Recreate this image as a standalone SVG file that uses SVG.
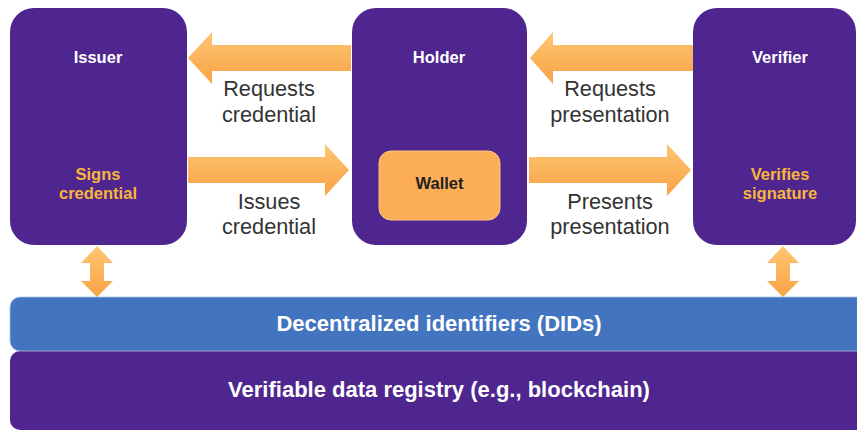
<svg xmlns="http://www.w3.org/2000/svg" width="857" height="430" viewBox="0 0 857 430">
<defs>
<linearGradient id="og" x1="0" y1="0" x2="0" y2="1">
<stop offset="0" stop-color="#FEC673"/>
<stop offset="1" stop-color="#F9A245"/>
</linearGradient>
<style>
.box{fill:#4F268F}
.title{font-family:"Liberation Sans",Arial,sans-serif;font-weight:bold;font-size:16.5px;fill:#FFFFFF;text-anchor:middle}
.sub{font-family:"Liberation Sans",Arial,sans-serif;font-weight:bold;font-size:16.5px;fill:#F7B63A;text-anchor:middle}
.lbl{font-family:"Liberation Sans",Arial,sans-serif;font-size:21.7px;fill:#333333;text-anchor:middle}
.bar{font-family:"Liberation Sans",Arial,sans-serif;font-weight:bold;font-size:22px;fill:#FFFFFF;text-anchor:middle}
.arr{fill:url(#og)}
</style>
</defs>
<rect width="857" height="430" fill="#FFFFFF"/>

<g id="registry">
<rect x="10" y="351" width="870" height="79" rx="10" class="box"/>
<text x="439" y="397" class="bar">Verifiable data registry (e.g., blockchain)</text>
</g>
<g id="dids">
<rect x="10" y="297" width="870" height="54" rx="10" fill="#4274BF" stroke="#A9C1E6" stroke-width="0.8"/>
<text x="439" y="331" class="bar">Decentralized identifiers (DIDs)</text>
</g>

<g id="issuer">
<rect x="10" y="8" width="177" height="237" rx="24" class="box"/>
<text x="98" y="63" class="title">Issuer</text>
<text x="98" y="180" class="sub">Signs</text>
<text x="98" y="199" class="sub">credential</text>
</g>

<g id="holder">
<rect x="352" y="8" width="175" height="237" rx="24" class="box"/>
<text x="439" y="63" class="title">Holder</text>
<g id="wallet">
<rect x="379" y="151" width="121" height="69" rx="12" fill="#FCAE56" stroke="#FDC680" stroke-width="1"/>
<text x="439.5" y="189" class="title" style="fill:#222222">Wallet</text>
</g>
</g>

<g id="verifier">
<rect x="693" y="8" width="163" height="237" rx="24" class="box"/>
<text x="780" y="63" class="title">Verifier</text>
<text x="780" y="180" class="sub">Verifies</text>
<text x="780" y="199" class="sub">signature</text>
</g>

<g id="connectors">
<polygon class="arr" points="188,58 212,32 212,45 351,45 351,71 212,71 212,84"/>
<polygon class="arr" points="188,157 325,157 325,144 349,170 325,196 325,183 188,183"/>
<polygon class="arr" points="530,58 553,32 553,45 693,45 693,71 553,71 553,84"/>
<polygon class="arr" points="529,157 667,157 667,144 691,170 667,196 667,183 529,183"/>
<polygon class="arr" points="97,246 113,263 104,263 104,281 113,281 97,297 81,281 90,281 90,263 81,263"/>
<polygon class="arr" points="783,246 799,263 790,263 790,281 799,281 783,297 767,281 776,281 776,263 767,263"/>
<text x="269" y="96" class="lbl">Requests</text>
<text x="269" y="122" class="lbl">credential</text>
<text x="269" y="209" class="lbl">Issues</text>
<text x="269" y="234" class="lbl">credential</text>
<text x="610" y="96" class="lbl">Requests</text>
<text x="610" y="122" class="lbl">presentation</text>
<text x="610" y="209" class="lbl">Presents</text>
<text x="610" y="234" class="lbl">presentation</text>
</g>
</svg>
